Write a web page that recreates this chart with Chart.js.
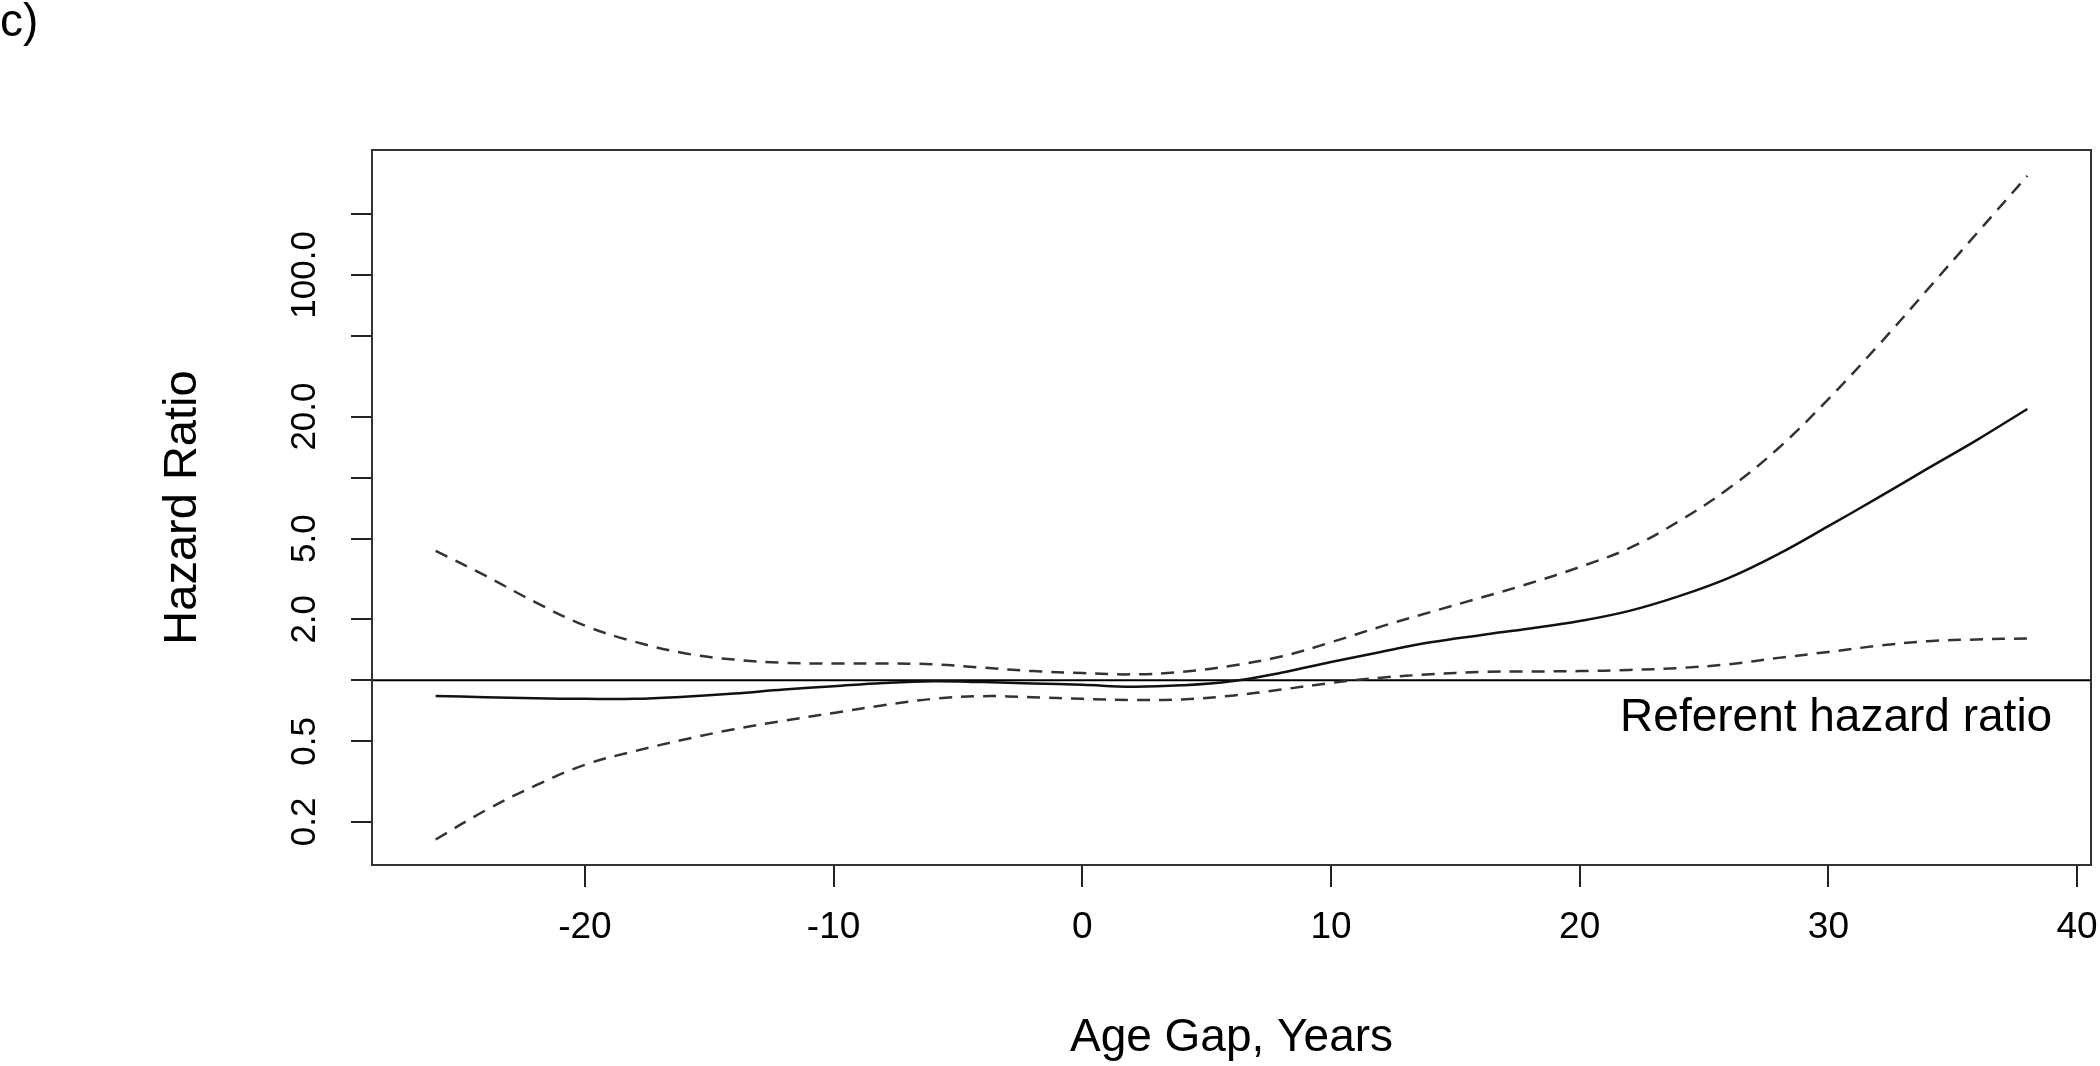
<!DOCTYPE html>
<html>
<head>
<meta charset="utf-8">
<script src="https://cdn.jsdelivr.net/npm/chart.js@4.4.1/dist/chart.umd.min.js"></script>
<style>
  html, body { margin: 0; padding: 0; background: #fff; }
  canvas { display: block; }
</style>
</head>
<body>
<canvas id="chart" width="2100" height="1066"></canvas>
<script>
/* global Chart */

// age gap (years) and the fitted hazard ratio with its 95% band
const ages = [-26, -24, -22, -20, -18, -16, -14, -12, -10, -8, -6, -4, -2, 0, 2, 4, 6, 8, 10, 12, 14, 16, 18, 20, 22, 24, 26, 28, 30, 32, 34, 36, 38]
const hrFit = [0.837, 0.825, 0.815, 0.81, 0.81, 0.83, 0.86, 0.90, 0.935, 0.97, 0.99, 0.98, 0.965, 0.95, 0.93, 0.945, 0.99, 1.09, 1.23, 1.38, 1.54, 1.67, 1.80, 1.96, 2.20, 2.60, 3.20, 4.20, 5.76, 7.96, 11.1, 15.4, 21.8]
const hrUpper = [4.35, 3.28, 2.43, 1.86, 1.55, 1.36, 1.265, 1.22, 1.21, 1.21, 1.20, 1.155, 1.11, 1.085, 1.07, 1.10, 1.18, 1.31, 1.54, 1.84, 2.17, 2.55, 3.01, 3.62, 4.49, 6.1, 8.85, 14.0, 24.4, 44.8, 85, 162, 308]
const hrLower = [0.164, 0.228, 0.302, 0.383, 0.447, 0.51, 0.574, 0.632, 0.69, 0.753, 0.81, 0.835, 0.825, 0.81, 0.80, 0.805, 0.84, 0.90, 0.97, 1.03, 1.07, 1.10, 1.105, 1.11, 1.125, 1.15, 1.20, 1.29, 1.38, 1.48, 1.56, 1.59, 1.61]

const xTickValues = [-20, -10, 0, 10, 20, 30, 40]
const xTickLabels = ['-20', '-10', '0', '10', '20', '30', '40']
const yTickValues = [0.2, 0.5, 1, 2, 5, 10, 20, 50, 100, 200]
const yTickLabels = ['0.2', '0.5', '', '2.0', '5.0', '', '20.0', '', '100.0', '']

const xLimits = [-28.56, 40.56]
const yLimits = [0.1227, 413]
const referentHR = 1
const referentLabel = 'Referent hazard ratio'
const referentLabelAt = { x: 39, y: 0.65 }

const FONT = '"Liberation Sans", Arial, sans-serif'
Chart.defaults.font.family = FONT
Chart.defaults.color = '#000'

const toPoints = ys => ages.map((x, i) => ({ x, y: ys[i] }))

// box round the plot region, plus the text under the referent line
const frame = {
  id: 'frame',
  afterDatasetsDraw (chart) {
    const { ctx, chartArea: a, scales: { x, y } } = chart
    ctx.save()
    ctx.strokeStyle = '#333'
    ctx.lineWidth = 2
    ctx.strokeRect(a.left, a.top, a.right - a.left, a.bottom - a.top)
    ctx.fillStyle = '#000'
    ctx.font = '46px ' + FONT
    ctx.textAlign = 'right'
    ctx.textBaseline = 'middle'
    ctx.fillText(referentLabel, x.getPixelForValue(referentLabelAt.x), y.getPixelForValue(referentLabelAt.y))
    ctx.restore()
  }
}

const dashed = [13, 9]

new Chart(document.getElementById('chart').getContext('2d'), {
  type: 'line',
  data: {
    datasets: [
      { label: 'Upper 95% CI', data: toPoints(hrUpper), borderColor: '#333', borderWidth: 2.5, borderDash: dashed },
      { label: 'Hazard ratio', data: toPoints(hrFit), borderColor: '#111', borderWidth: 2.5 },
      { label: 'Lower 95% CI', data: toPoints(hrLower), borderColor: '#333', borderWidth: 2.5, borderDash: dashed },
      {
        label: 'Referent',
        data: [{ x: xLimits[0], y: referentHR }, { x: xLimits[1], y: referentHR }],
        borderColor: '#000',
        borderWidth: 2,
        tension: 0
      }
    ]
  },
  plugins: [frame],
  options: {
    responsive: false,
    animation: false,
    devicePixelRatio: 1,
    layout: { padding: { top: 0, right: 9, bottom: 0, left: 0 }, autoPadding: false },
    elements: {
      point: { radius: 0 },
      line: { tension: 0.4, fill: false }
    },
    plugins: {
      legend: { display: false },
      tooltip: { enabled: false },
      title: {
        display: true,
        text: 'c)',
        align: 'start',
        color: '#000',
        font: { size: 46, weight: 'normal', lineHeight: 1 },
        padding: { top: 0, bottom: 104 }
      }
    },
    scales: {
      x: {
        type: 'linear',
        min: xLimits[0],
        max: xLimits[1],
        afterBuildTicks: s => { s.ticks = xTickValues.map(value => ({ value })) },
        afterFit: s => { s.height = 201; s.paddingLeft = 0; s.paddingRight = 0 },
        grid: { drawOnChartArea: false, drawTicks: true, tickLength: 22, color: '#222', lineWidth: 2 },
        border: { display: false },
        ticks: {
          font: { size: 37 },
          padding: 19,
          maxRotation: 0,
          autoSkip: false,
          callback: (v, i) => xTickLabels[i]
        },
        title: { display: true, text: 'Age Gap, Years', font: { size: 46 }, padding: { top: 0, bottom: 0 } }
      },
      y: {
        type: 'logarithmic',
        min: yLimits[0],
        max: yLimits[1],
        afterBuildTicks: s => { s.ticks = yTickValues.map(value => ({ value })) },
        afterFit: s => { s.width = 372; s.paddingTop = 0; s.paddingBottom = 0 },
        grid: { drawOnChartArea: false, drawTicks: true, tickLength: 21, color: '#222', lineWidth: 2 },
        border: { display: false },
        ticks: {
          font: { size: 35 },
          padding: 2,
          minRotation: 90,
          maxRotation: 90,
          crossAlign: 'center',
          autoSkip: false,
          callback: (v, i) => yTickLabels[i]
        },
        title: { display: true, text: 'Hazard Ratio', font: { size: 47 }, padding: { top: 155, bottom: 0 } }
      }
    }
  }
})
</script>
</body>
</html>
